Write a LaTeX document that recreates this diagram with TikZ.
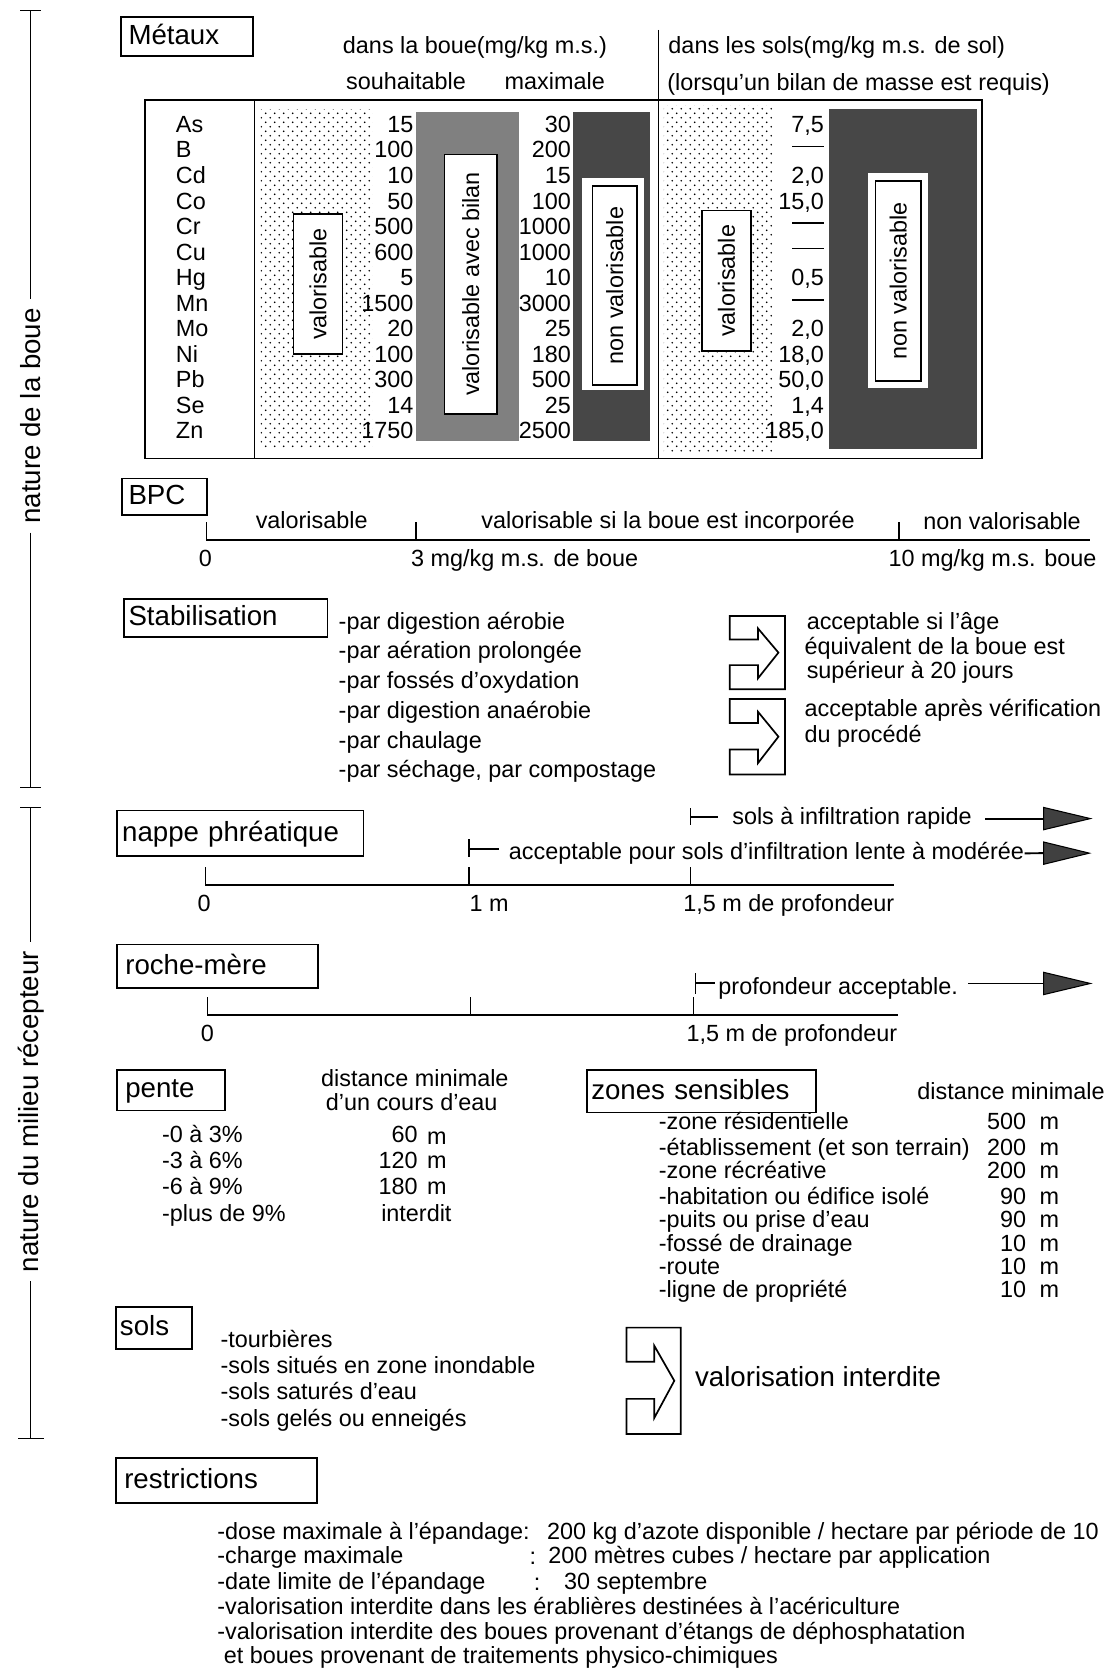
\documentclass[tikz,border=0pt]{standalone}
\usepackage{fontspec}
\setmainfont{Liberation Sans}
\usetikzlibrary{patterns}
\pgfdeclarepatternformonly{sdots}{\pgfpointorigin}{\pgfqpoint{4.2pt}{4.2pt}}{\pgfqpoint{4.2pt}{4.2pt}}{%
  \pgfpathcircle{\pgfqpoint{1.05pt}{1.05pt}}{0.42pt}%
  \pgfpathcircle{\pgfqpoint{3.15pt}{3.15pt}}{0.42pt}%
  \pgfusepath{fill}}
\newcommand\stabarrow[4]{%
  \draw[line width=0.8pt,shift={(#1,#2)},xscale=#3,yscale=#4]
    (0,0) -- (1,0) -- (1,1) -- (0,1) -- (0,0.67) -- (0.51,0.67) -- (0.51,0.85)
    -- (0.88,0.5) -- (0.51,0.17) -- (0.51,0.32) -- (0,0.32) -- cycle;}
\newcommand\dsh{\rule[5pt]{15pt}{0.75pt}}
\begin{document}
\begin{tikzpicture}[x=0.5pt,y=-0.5pt,
  tx/.style={inner sep=0pt,font=\fontsize{11}{13}\selectfont},
  hbox/.style={draw,line width=0.8pt,anchor=north west,inner xsep=0pt,inner ysep=0pt,
    font=\fontsize{13}{15}\selectfont,align=left,text height=9.3pt,text depth=2pt},
  side/.style={font=\fontsize{13}{15}\selectfont,rotate=90,inner xsep=4pt,inner ysep=0pt},
  vbox/.style={draw,line width=0.7pt,fill=white,inner sep=0pt,rotate=90,font=\fontsize{11}{13}\selectfont},
  scl/.style={line width=0.9pt},
  tck/.style={line width=0.6pt},
  tri/.style={draw=black,fill=black!75,line width=0.5pt}]
\useasboundingbox (0,0) rectangle (1043,1568);
\fill[white] (0,0) rectangle (1043,1568);

% ---------- left bars ----------
\coordinate (b1t) at (29,10);
\coordinate (b1b) at (29,740);
\node[side] (nb1) at (29,391) {nature de la boue};
\draw[tck] (b1t) -- (nb1.east);
\draw[tck] (nb1.west) -- (b1b);
\draw[tck] ([xshift=-5pt]b1t) -- ([xshift=5pt]b1t);
\draw[tck] ([xshift=-5pt]b1b) -- ([xshift=5pt]b1b);
\coordinate (b2t) at (29,759);
\coordinate (b2b) at (29,1352);
\node[side] (nb2) at (29,1045) {nature du milieu récepteur};
\draw[tck] (b2t) -- (nb2.east);
\draw[tck] (nb2.west) -- (b2b);
\draw[tck] ([xshift=-5pt]b2t) -- ([xshift=5pt]b2t);
\draw[tck] ([xshift=-6pt]b2b) -- ([xshift=6pt]b2b);

% ---------- Metaux ----------
\node[hbox,minimum width=62pt,minimum height=18.5pt,text width=55pt] (metaux) at (113,15) {Métaux};
\node[tx,anchor=base west] (hb) at (322,50) {dans la boue(mg/kg m.s.)};
\node[tx,anchor=base west] (hs) at (628,50) {dans les sols(mg/kg m.s. de sol)};
\node[tx,anchor=base west] (hsou) at (325,84) {souhaitable};
\node[tx,anchor=base west] (hmax) at (474,84) {maximale};
\node[tx,anchor=base west] (hlor) at (627,85) {(lorsqu'un bilan de masse est requis)};

% shaded zones
\fill[pattern=sdots] (245,103) rectangle (350,422);
\fill[black!50] (391,105) rectangle (488,415);
\fill[black!72] (539,105) rectangle (611,415);
\fill[white] (547,167) rectangle (605,367);
\fill[pattern=sdots] (624,99) rectangle (726,424);
\fill[black!72] (779,102) rectangle (918,422);
\fill[white] (816,163) rectangle (872,365);

% table frame
\draw[line width=0.8pt] (136,94) rectangle (923,431);
\draw[line width=0.7pt] (239,94) -- (239,431);
\draw[line width=0.7pt] (619,28) -- (619,431);

\foreach \e/\a/\b/\c [count=\i from 0] in {As/15/30/{7,5},B/100/200/{\dsh},Cd/10/15/{2,0},Co/50/100/{15,0},Cr/500/1000/{\dsh},Cu/600/1000/{\dsh},Hg/5/10/{0,5},Mn/1500/3000/{\dsh},Mo/20/25/{2,0},Ni/100/180/{18,0},Pb/300/500/{50,0},Se/14/25/{1,4},Zn/1750/2500/{185,0}}{
  \pgfmathsetmacro\yy{124.5+24*\i}
  \node[tx,anchor=base west] (el\i) at (165,\yy) {\e};
  \node[tx,anchor=base east] (sh\i) at (389,\yy) {\a};
  \node[tx,anchor=base east] (mx\i) at (537,\yy) {\b};
  \node[tx,anchor=base east] (so\i) at (775,\yy) {\c};
}

\node[vbox,minimum width=66pt,minimum height=23pt] (v1) at (299,267) {valorisable};
\node[vbox,minimum width=122pt,minimum height=24.5pt] (v2) at (442.5,267) {valorisable avec bilan};
\node[vbox,minimum width=93.5pt,minimum height=21pt] (v3) at (578,268.5) {non valorisable};
\node[vbox,minimum width=66pt,minimum height=23pt] (v4) at (683,264) {valorisable};
\node[vbox,minimum width=94pt,minimum height=21.5pt] (v5) at (844.5,264) {non valorisable};

% ---------- BPC ----------
\node[hbox,minimum width=40pt,minimum height=17pt,text width=34pt] (bpc) at (114,449) {BPC};
\coordinate (p0) at (194,508);
\coordinate (p3) at (391,508);
\coordinate (p10) at (845,508);
\coordinate (pend) at (1025,508);
\draw[scl] (p0) -- (pend);
\draw[tck] (p0) -- ++(0,-17);
\draw[tck] (p3) -- ++(0,-17);
\draw[tck] (p10) -- ++(0,-17);
\node[tx,anchor=base] (bl1) at (293,497) {valorisable};
\node[tx,anchor=base] (bl2) at (628,497) {valorisable si la boue est incorporée};
\node[tx,anchor=base] (bl3) at (942,498) {non valorisable};
\node[tx,anchor=base] (bz0) at (193,533) {0};
\node[tx,anchor=base west] (bz3) at (386,533) {3 mg/kg m.s. de boue};
\node[tx,anchor=base west] (bz10) at (835,533) {10 mg/kg m.s. boue};

% ---------- Stabilisation ----------
\node[hbox,minimum width=95.5pt,minimum height=18pt,text width=91.5pt] (stab) at (116,562) {Stabilisation};
\node[tx,anchor=base west] (s1) at (318,592) {-par digestion aérobie};
\node[tx,anchor=base west] (s2) at (318,619) {-par aération prolongée};
\node[tx,anchor=base west] (s3) at (318,647) {-par fossés d'oxydation};
\node[tx,anchor=base west] (s4) at (318,675) {-par digestion anaérobie};
\node[tx,anchor=base west] (s5) at (318,704) {-par chaulage};
\node[tx,anchor=base west] (s6) at (318,731) {-par séchage, par compostage};
\stabarrow{686}{579}{52}{69}
\stabarrow{686}{657}{52}{71}
\node[tx,anchor=base west] (a1) at (758,592) {acceptable si l'âge};
\node[tx,anchor=base west] (a2) at (756,615) {équivalent de la boue est};
\node[tx,anchor=base west] (a3) at (758,638) {supérieur à 20 jours};
\node[tx,anchor=base west] (a4) at (756,674) {acceptable après vérification};
\node[tx,anchor=base west] (a5) at (756,698) {du procédé};

% ---------- nappe phreatique ----------
\node[hbox,minimum width=116pt,minimum height=21.5pt,text width=111pt] (nappe) at (109,761) {nappe phréatique};
\coordinate (n0) at (193,832);
\coordinate (n1) at (441,832);
\coordinate (n15) at (649,832);
\coordinate (nend) at (840,832);
\draw[scl] (n0) -- (nend);
\draw[tck] (n0) -- ++(0,-17);
\draw[tck] (n1) -- ++(0,-17);
\draw[tck] (n15) -- ++(0,-17);
\node[tx,anchor=base] (nz0) at (192,857) {0};
\node[tx,anchor=base west] (nz1) at (441,857) {1 m};
\node[tx,anchor=base west] (nz15) at (642,857) {1,5 m de profondeur};
\draw[tck] (649,760) -- (649,776);
\draw[tck] (649,768) -- (675,768);
\node[tx,anchor=base west] (m1t) at (688,775) {sols à infiltration rapide};
\coordinate (l1s) at (926,769.5);
\coordinate (t1) at (981,769.5);
\draw[scl] (l1s) -- (t1);
\draw[tri] (t1) -- ++(0,-10.5) -- ++(44,10.5) -- ++(-44,10.5) -- cycle;
\draw[tck] (441,789) -- (441,806);
\draw[tck] (441,798) -- (469,798);
\node[tx,anchor=base west] (m2t) at (478,808) {acceptable pour sols d'infiltration lente à modérée};
\coordinate (t2) at (981,802);
\draw[scl] (m2t.east) -- (t2);
\draw[tri] (t2) -- ++(0,-10.5) -- ++(43,10.5) -- ++(-43,10.5) -- cycle;

% ---------- roche-mere ----------
\node[hbox,minimum width=94.5pt,minimum height=20.5pt,text width=86.5pt] (roche) at (109,887) {roche-mère};
\coordinate (r0) at (195,954);
\coordinate (r1) at (442,954);
\coordinate (r15) at (652,954);
\coordinate (rend) at (844,954);
\draw[scl] (r0) -- (rend);
\draw[tck] (r0) -- ++(0,-17);
\draw[tck] (r1) -- ++(0,-17);
\draw[tck] (r15) -- ++(0,-17);
\node[tx,anchor=base] (rz0) at (195,979) {0};
\node[tx,anchor=base west] (rz15) at (645,979) {1,5 m de profondeur};
\draw[tck] (654,915) -- (654,934);
\draw[tck] (654,924) -- (672,924);
\node[tx,anchor=base west] (m3t) at (675,935) {profondeur acceptable.};
\coordinate (l3s) at (910,924.5);
\coordinate (t3) at (981,924.5);
\draw[scl] (l3s) -- (t3);
\draw[tri] (t3) -- ++(0,-10.5) -- ++(44,10.5) -- ++(-44,10.5) -- cycle;

% ---------- pente ----------
\node[hbox,minimum width=51pt,minimum height=19pt,text width=43pt] (pente) at (109,1005) {pente};
\node[tx,anchor=base] (pdm1) at (390,1021) {distance minimale};
\node[tx,anchor=base] (pdm2) at (387,1044) {d'un cours d'eau};
\node[tx,anchor=base west] (p1) at (152,1074) {-0 à 3\%};
\node[tx,anchor=base west] (p2) at (152,1098) {-3 à 6\%};
\node[tx,anchor=base west] (p3) at (152,1123) {-6 à 9\%};
\node[tx,anchor=base west] (p4) at (152,1148) {-plus de 9\%};
\node[tx,anchor=base east] (pv1) at (393,1074) {60};
\node[tx,anchor=base west] (pm1) at (401,1076) {m};
\node[tx,anchor=base east] (pv2) at (393,1098) {120};
\node[tx,anchor=base west] (pm2) at (401,1098) {m};
\node[tx,anchor=base east] (pv3) at (393,1123) {180};
\node[tx,anchor=base west] (pm3) at (401,1123) {m};
\node[tx,anchor=base west] (pv4) at (358,1148) {interdit};

% ---------- zones sensibles ----------
\node[hbox,minimum width=107.5pt,minimum height=20pt,text width=103.5pt] (zones) at (551,1005) {zones sensibles};
\node[tx,anchor=base west] (zdm) at (862,1034) {distance minimale};
\foreach \t/\v/\yy [count=\i] in {-zone résidentielle/500/1062,-établissement (et son terrain)/200/1086,-zone récréative/200/1108,-habitation ou édifice isolé/90/1132,-puits ou prise d'eau/90/1154,-fossé de drainage/10/1176,-route/10/1198,-ligne de propriété/10/1220}{
  \node[tx,anchor=base west] (z\i) at (619,\yy) {\t};
  \node[tx,anchor=base east] (zv\i) at (965,\yy) {\v};
  \node[tx,anchor=base west] (zm\i) at (977,\yy) {m};
}

% ---------- sols ----------
\node[hbox,minimum width=36pt,minimum height=19.5pt,text width=32pt] (sols) at (108,1228) {sols};
\node[tx,anchor=base west] (so1) at (207,1267) {-tourbières};
\node[tx,anchor=base west] (so2) at (207,1291) {-sols situés en zone inondable};
\node[tx,anchor=base west] (so3) at (207,1316) {-sols saturés d'eau};
\node[tx,anchor=base west] (so4) at (207,1341) {-sols gelés ou enneigés};
\stabarrow{589}{1248}{51}{100}
\node[anchor=base west,inner sep=0pt,font=\fontsize{13}{15}\selectfont] (vi) at (653,1303) {valorisation interdite};

% ---------- restrictions ----------
\node[hbox,minimum width=94.5pt,minimum height=21pt,text width=86.5pt] (restr) at (108,1370) {restrictions};
\node[tx,anchor=base west] (r1a) at (204,1447) {-dose maximale à l'épandage:};
\node[tx,anchor=base west] (r1b) at (514,1447) {200 kg d'azote disponible / hectare par période de 10};
\node[tx,anchor=base west] (r2a) at (204,1470) {-charge maximale};
\node[tx,anchor=base] (r2c) at (501,1471) {:};
\node[tx,anchor=base west] (r2b) at (515,1470) {200 mètres cubes / hectare par application};
\node[tx,anchor=base west] (r3a) at (204,1494) {-date limite de l'épandage};
\node[tx,anchor=base] (r3c) at (505,1495) {:};
\node[tx,anchor=base west] (r3b) at (530,1494) {30 septembre};
\node[tx,anchor=base west] (r4) at (204,1518) {-valorisation interdite dans les érablières destinées à l'acériculture};
\node[tx,anchor=base west] (r5) at (204,1541) {-valorisation interdite des boues provenant d'étangs de déphosphatation};
\node[tx,anchor=base west] (r6) at (210,1564) {et boues provenant de traitements physico-chimiques};
\end{tikzpicture}
\end{document}
